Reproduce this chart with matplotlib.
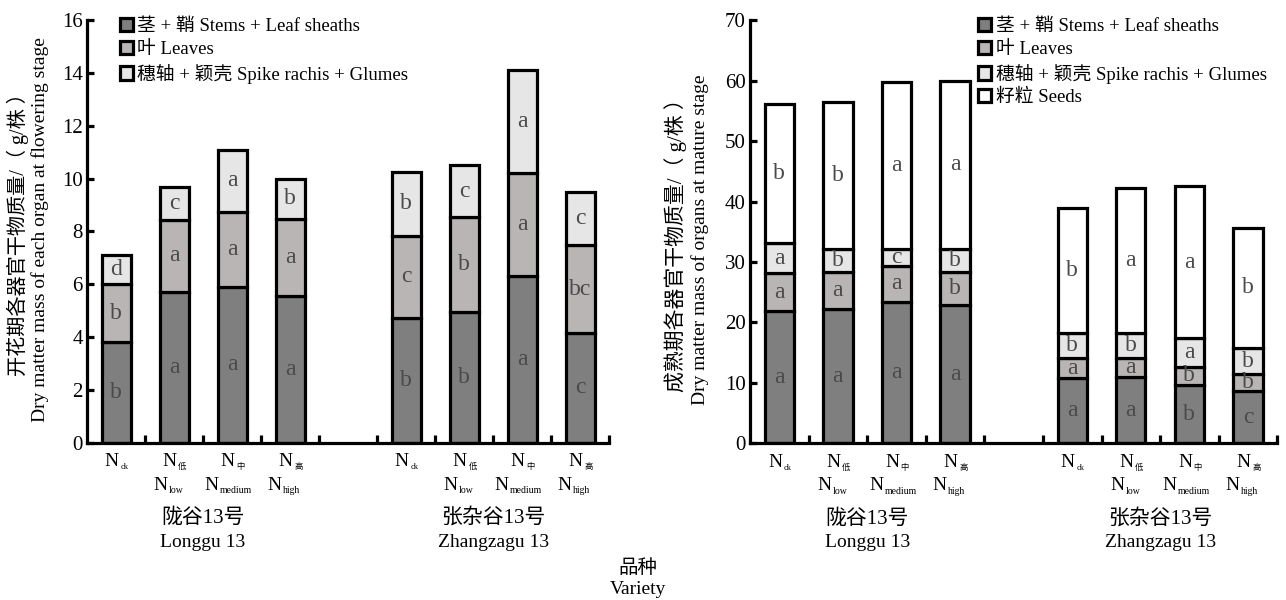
import matplotlib
matplotlib.use('Agg')
import matplotlib.pyplot as plt
from matplotlib.patches import Patch

plt.rcParams['font.family'] = ['Liberation Serif', 'Noto Sans CJK SC']

# bar positions: 4 treatments per variety, one empty slot between the varieties
x_pos = [0, 1, 2, 3, 5, 6, 7, 8]
row1_sub = ['ck', '低', '中', '高', 'ck', '低', '中', '高']
row2_sub = ['', 'low', 'medium', 'high', '', 'low', 'medium', 'high']
variety_cn = ['陇谷13号', '张杂谷13号']
variety_en = ['Longgu 13', 'Zhangzagu 13']

# flowering stage, segment heights (g/株)
flw_stems = [3.8, 5.7, 5.9, 5.55, 4.72, 4.96, 6.32, 4.16]
flw_leaves = [2.2, 2.75, 2.85, 2.92, 3.12, 3.57, 3.88, 3.32]
flw_spike = [1.1, 1.25, 2.35, 1.53, 2.42, 1.98, 3.91, 2.0]
flw_stems_sig = ['b', 'a', 'a', 'a', 'b', 'b', 'a', 'c']
flw_leaves_sig = ['b', 'a', 'a', 'a', 'c', 'b', 'a', 'bc']
flw_spike_sig = ['d', 'c', 'a', 'b', 'b', 'c', 'a', 'c']

# mature stage, segment heights (g/株)
mat_stems = [21.9, 22.2, 23.4, 22.9, 10.75, 11.0, 9.6, 8.65]
mat_leaves = [6.2, 6.2, 6.0, 5.5, 3.3, 3.2, 3.1, 2.75]
mat_spike = [5.1, 3.8, 2.8, 3.8, 4.15, 4.1, 4.7, 4.4]
mat_seeds = [22.9, 24.3, 27.5, 27.7, 20.8, 23.9, 25.1, 19.9]
mat_stems_sig = ['a', 'a', 'a', 'a', 'a', 'a', 'b', 'c']
mat_leaves_sig = ['a', 'a', 'a', 'b', 'a', 'a', 'b', 'b']
mat_spike_sig = ['a', 'b', 'c', 'b', 'b', 'b', 'a', 'b']
mat_seeds_sig = ['b', 'b', 'a', 'a', 'b', 'a', 'a', 'b']

colors = ['#7f7f7f', '#b9b5b5', '#e6e6e6', '#ffffff']
names = ['茎 + 鞘 Stems + Leaf sheaths', '叶 Leaves',
         '穗轴 + 颖壳 Spike rachis + Glumes', '籽粒 Seeds']
LW = 2.3

fig = plt.figure(figsize=(12.86, 6.0), dpi=100)
ax1 = fig.add_axes([0.0677, 0.262, 0.406, 0.7045])
ax2 = fig.add_axes([0.5832, 0.261, 0.410, 0.7055])


def stacked(ax, parts, sigs):
    bottom = [0.0] * len(x_pos)
    for k, (vals, sig) in enumerate(zip(parts, sigs)):
        ax.bar(x_pos, vals, width=0.5, bottom=bottom, color=colors[k],
               edgecolor='black', linewidth=LW, zorder=2)
        for xi, b, v, s in zip(x_pos, bottom, vals, sig):
            ax.text(xi, b + v / 2, s, ha='center', va='center', fontsize=17,
                    color='#4a4a4a', zorder=3)
        bottom = [b + v for b, v in zip(bottom, vals)]


def style_axis(ax, ymax, ystep):
    ax.set_xlim(-0.5, 8.5)
    ax.set_ylim(0, ymax)
    ax.spines['top'].set_visible(False)
    ax.spines['right'].set_visible(False)
    for s in ['left', 'bottom']:
        ax.spines[s].set_linewidth(LW)
    ax.set_yticks(range(0, ymax + 1, ystep))
    ax.set_xticks([i + 0.5 for i in range(9)])
    ax.set_xticklabels([])
    ax.tick_params(axis='y', direction='in', length=5, width=LW, labelsize=15, pad=3)
    ax.tick_params(axis='x', direction='in', length=6, width=LW)
    trans = ax.get_xaxis_transform()
    for xi, s1, s2 in zip(x_pos, row1_sub, row2_sub):
        ax.annotate('N', (xi, -0.045), xycoords=trans, xytext=(2, 0),
                    textcoords='offset points', ha='right', va='center', fontsize=14)
        ax.annotate(s1, (xi, -0.045), xycoords=trans, xytext=(3, -4),
                    textcoords='offset points', ha='left', va='center', fontsize=6)
        if s2:
            ax.annotate('N', (xi, -0.1), xycoords=trans, xytext=(-len(s2) * 1.6, 0),
                        textcoords='offset points', ha='right', va='center', fontsize=14)
            ax.annotate(s2, (xi, -0.1), xycoords=trans, xytext=(-len(s2) * 1.6 + 1, -4),
                        textcoords='offset points', ha='left', va='center', fontsize=7)
    for gx, cn, en in zip([1.5, 6.5], variety_cn, variety_en):
        ax.text(gx, -0.178, cn, transform=trans, ha='center', va='center', fontsize=15)
        ax.text(gx, -0.235, en, transform=trans, ha='center', va='center', fontsize=14)


stacked(ax1, [flw_stems, flw_leaves, flw_spike],
        [flw_stems_sig, flw_leaves_sig, flw_spike_sig])
style_axis(ax1, 16, 2)
stacked(ax2, [mat_stems, mat_leaves, mat_spike, mat_seeds],
        [mat_stems_sig, mat_leaves_sig, mat_spike_sig, mat_seeds_sig])
style_axis(ax2, 70, 10)

# y-axis titles, Chinese line outside the English one
fig.text(0.0135, 0.617, '开花期各器官干物质量/（ g/株 ）', rotation=90,
         ha='center', va='center', fontsize=14.5)
fig.text(0.031, 0.617, 'Dry matter mass of each organ at flowering stage', rotation=90,
         ha='center', va='center', fontsize=14)
fig.text(0.525, 0.6, '成熟期各器官干物质量/（ g/株 ）', rotation=90,
         ha='center', va='center', fontsize=15)
fig.text(0.544, 0.6, 'Dry matter mass of organs at mature stage', rotation=90,
         ha='center', va='center', fontsize=14)

fig.text(0.496, 0.053, '品种', ha='center', va='center', fontsize=14)
fig.text(0.496, 0.017, 'Variety', ha='center', va='center', fontsize=14)

for n, anchor in [(3, (0.093, 0.97)), (4, (0.7605, 0.97))]:
    handles = [Patch(facecolor=colors[k], edgecolor='black', linewidth=LW)
               for k in range(n)]
    fig.legend(handles, names[:n], loc='upper left', bbox_to_anchor=anchor,
               bbox_transform=fig.transFigure, frameon=False, fontsize=13.5,
               handlelength=0.7, handleheight=0.7, handletextpad=0.25,
               labelspacing=0.3, borderpad=0, borderaxespad=0)

fig.savefig('out.png', dpi=100)
